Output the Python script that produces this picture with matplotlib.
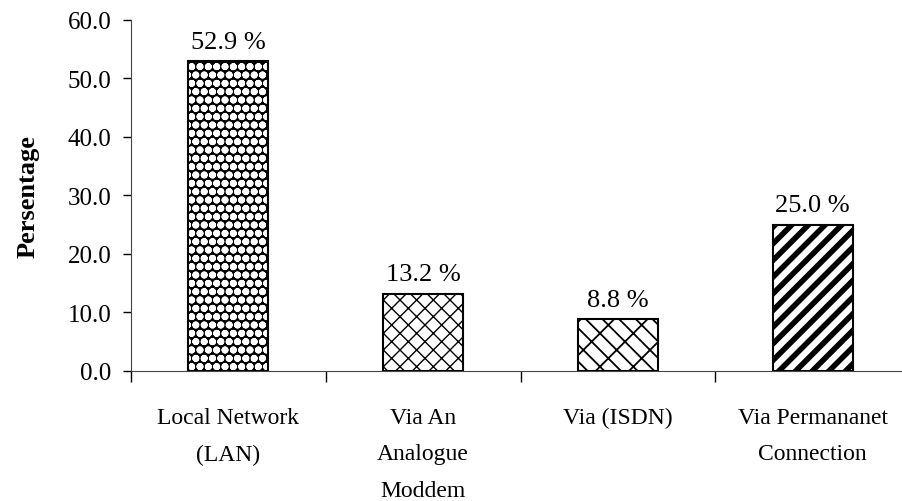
import matplotlib
matplotlib.use("Agg")
import matplotlib.pyplot as plt
import numpy as np

categories = ["Local Network\n(LAN)", "Via An\nAnalogue\nModdem", "Via (ISDN)", "Via Permananet\nConnection"]
values = [52.9, 13.2, 8.8, 25.0]
yticks = [0, 10, 20, 30, 40, 50, 60]

plt.rcParams["font.family"] = ["Liberation Serif", "DejaVu Serif"]
plt.rcParams["font.size"] = 18

fig = plt.figure(figsize=(9.02, 5.02), dpi=100)
ax = fig.add_axes([131 / 902, 1 - 372 / 502, 779 / 902, (372 - 20.7) / 502])

x = np.arange(len(values))
width = 0.41

# background fills and hatch styles for each bar
styles = [
    dict(face="black", hatch="oo", hcolor="white", hlw=2.6),
    dict(face="white", hatch="xx", hcolor="black", hlw=1.0),
    dict(face="white", hatch="\\\\/", hcolor="black", hlw=1.3),
    dict(face="white", hatch="//", hcolor="black", hlw=4.0),
]

for xi, v, st in zip(x, values, styles):
    with plt.rc_context({"hatch.linewidth": st["hlw"], "hatch.color": st["hcolor"]}):
        b = ax.bar(xi, v, width=width, color=st["face"], edgecolor=st["hcolor"],
                   hatch=st["hatch"], linewidth=0, zorder=2)
        for p in b:
            try:
                p.set_hatch_linewidth(st["hlw"])
            except AttributeError:
                pass
    ax.bar(xi, v, width=width, facecolor="none", edgecolor="black",
           linewidth=1.5, zorder=3)
    ax.annotate(f"{v:.1f} %", (xi, v), xytext=(0, 6), textcoords="offset points",
                ha="center", va="bottom", fontsize=19)

ax.set_xlim(-0.5, len(values) - 0.5)
ax.set_ylim(0, 60)
ax.set_yticks(yticks)
ax.set_yticklabels([f"{t:.1f}" for t in yticks])
ax.tick_params(axis="y", direction="out", length=6, width=1, pad=8)

ax.set_xticks(x)
ax.set_xticklabels(categories, linespacing=1.95, va="top", fontsize=17)
ax.tick_params(axis="x", length=0, pad=26)
ax.set_xticks(np.arange(len(values)) - 0.5, minor=True)
ax.tick_params(axis="x", which="minor", direction="out", length=8, width=1)

for s in ["top", "right"]:
    ax.spines[s].set_visible(False)
ax.spines["left"].set_color("#444444")
ax.spines["bottom"].set_color("#444444")

ax.set_ylabel("Persentage", fontweight="bold", fontsize=19, labelpad=20)

fig.savefig("out.png", dpi=100)
